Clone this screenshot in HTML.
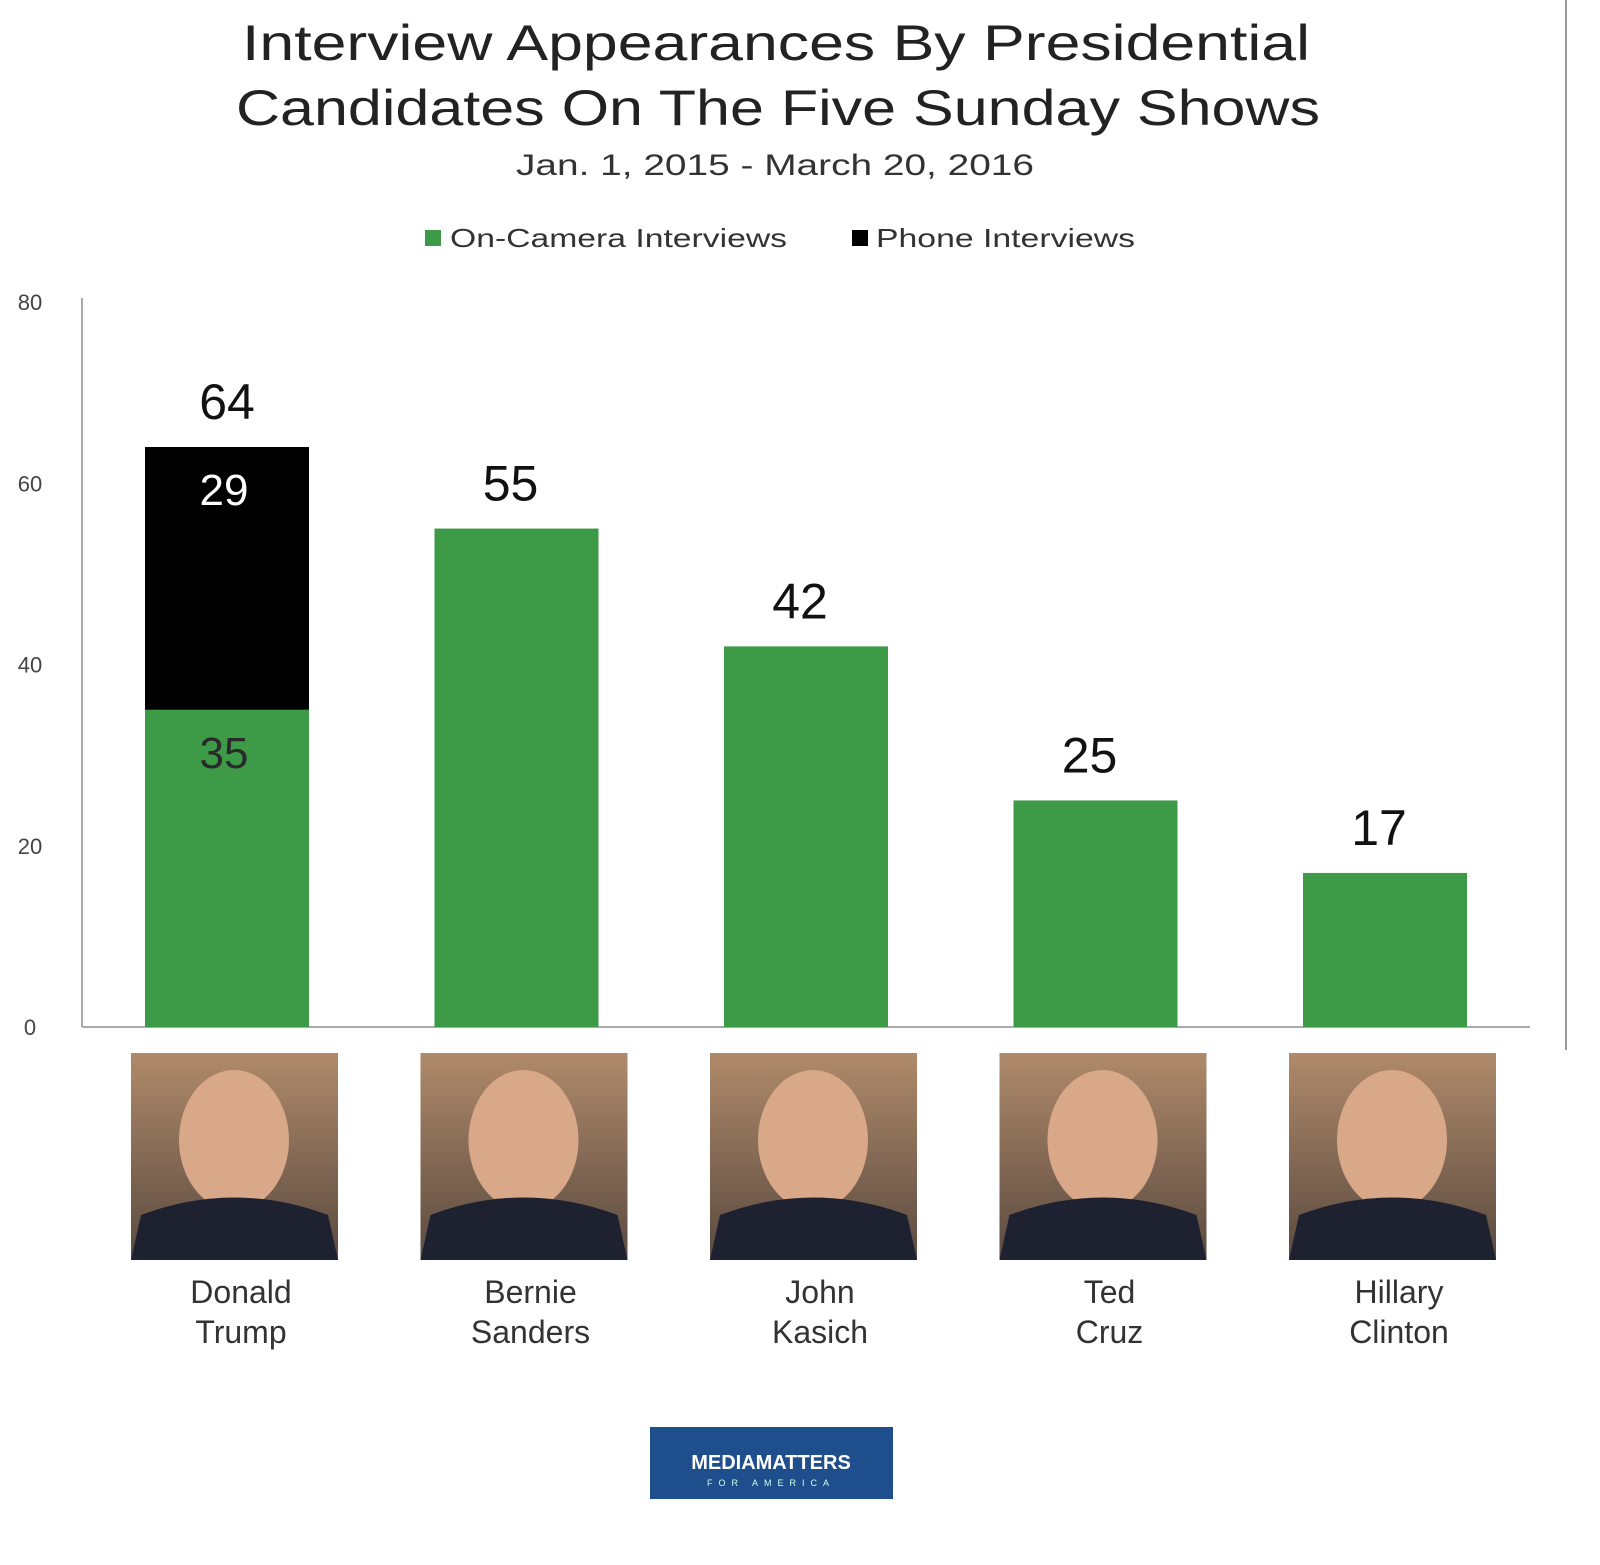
<!DOCTYPE html>
<html><head><meta charset="utf-8"><style>
body{margin:0;background:#fff;}
svg text{font-family:"Liberation Sans",sans-serif;}
</style></head><body>
<svg width="1600" height="1560" viewBox="0 0 1600 1560" xmlns="http://www.w3.org/2000/svg">
<defs>
<linearGradient id="bg" x1="0" y1="0" x2="0" y2="1"><stop offset="0" stop-color="#b08a6a"/><stop offset="1" stop-color="#5a4a40"/></linearGradient>
</defs>
<line x1="1566" y1="0" x2="1566" y2="1050" stroke="#999" stroke-width="2"/>
<text x="242" y="60" font-size="50" textLength="1068" lengthAdjust="spacingAndGlyphs" fill="#222">Interview Appearances By Presidential</text>
<text x="236" y="125" font-size="50" textLength="1084" lengthAdjust="spacingAndGlyphs" fill="#222">Candidates On The Five Sunday Shows</text>
<text x="516" y="175" font-size="30" textLength="518" lengthAdjust="spacingAndGlyphs" fill="#333">Jan. 1, 2015 - March 20, 2016</text>
<g>
<rect x="425" y="230" width="16" height="16" fill="#3d9a47"/>
<text x="450" y="247" font-size="26" textLength="337" lengthAdjust="spacingAndGlyphs" fill="#333">On-Camera Interviews</text>
<rect x="852" y="230" width="16" height="16" fill="#000"/>
<text x="876" y="247" font-size="26" textLength="259" lengthAdjust="spacingAndGlyphs" fill="#333">Phone Interviews</text>
</g>
<g id="axis"></g>
<g id="bars"></g>
<g id="people"></g>
<g>
<rect x="650" y="1427" width="243" height="72" fill="#1f4e8c"/>
<text x="771" y="1469" font-size="20" font-weight="bold" fill="#fff" text-anchor="middle">MEDIAMATTERS</text>
<text x="771" y="1486" font-size="9" fill="#cfe" text-anchor="middle" letter-spacing="6">FOR AMERICA</text>
</g>
</svg>
<script>
const categories=["Donald Trump","Bernie Sanders","John Kasich","Ted Cruz","Hillary Clinton"];
const firstNames=["Donald","Bernie","John","Ted","Hillary"];
const lastNames=["Trump","Sanders","Kasich","Cruz","Clinton"];
const onCamera=[35,55,42,25,17];
const phone=[29,0,0,0,0];
const yTicks=[0,20,40,60,80];
const NS="http://www.w3.org/2000/svg";
const y0=1027,yTop=302,yMax=80;
function yScale(v){return y0-(y0-yTop)*v/yMax;}
function xCenter(i){return 227+i*289.5;}
function mk(tag,attrs,parent){const e=document.createElementNS(NS,tag);for(const k in attrs)e.setAttribute(k,attrs[k]);parent.appendChild(e);return e;}
const ax=document.getElementById('axis');
let l=mk('line',{x1:82,y1:298,x2:82,y2:y0,stroke:'#aaa','stroke-width':2},ax);


l=mk('line',{x1:82,y1:y0,x2:1530,y2:y0,stroke:'#aaa','stroke-width':2},ax);


yTicks.forEach(t=>{const e=mk('text',{x:30,y:yScale(t)+8,'font-size':22,'text-anchor':'middle',fill:'#444'},ax);e.textContent=t;

});
const bg=document.getElementById('bars');const pg=document.getElementById('people');
categories.forEach((c,i)=>{
 const cx=xCenter(i),w=164;
 let r=mk('rect',{x:cx-w/2,y:yScale(onCamera[i]),width:w,height:y0-yScale(onCamera[i]),fill:'#3d9a47'},bg);
 
 
 const tot=onCamera[i]+phone[i];
 if(phone[i]>0){
  r=mk('rect',{x:cx-w/2,y:yScale(tot),width:w,height:yScale(onCamera[i])-yScale(tot),fill:'#000'},bg);
  
  
  let t=mk('text',{x:cx-3,y:yScale(tot)+58,'font-size':44,'text-anchor':'middle',fill:'#fff'},bg);t.textContent=phone[i];
  
  
  t=mk('text',{x:cx-3,y:yScale(onCamera[i])+58,'font-size':44,'text-anchor':'middle',fill:'#2a2a2a'},bg);t.textContent=onCamera[i];
  
  
 }
 let t=mk('text',{x:cx-(phone[i]>0?0:6),y:yScale(tot)-28,'font-size':50,'text-anchor':'middle',fill:'#111'},bg);t.textContent=tot;
 
 
 const px=cx+7-103;
 const g=mk('g',{},pg);
 
 
 mk('rect',{x:px,y:1053,width:207,height:207,fill:'url(#bg)'},g);
 mk('ellipse',{cx:px+103,cy:1140,rx:55,ry:70,fill:'#d9a888'},g);
 mk('path',{d:`M${px} 1260 L${px+10} 1215 Q${px+103} 1180 ${px+197} 1215 L${px+207} 1260 Z`,fill:'#1e2230'},g);
 let n=mk('text',{x:cx+14,y:1303,'font-size':32,'text-anchor':'middle',fill:'#333'},pg);n.textContent=firstNames[i];
 
 
 n=mk('text',{x:cx+14,y:1343,'font-size':32,'text-anchor':'middle',fill:'#333'},pg);n.textContent=lastNames[i];
 
 
});
</script>
</body></html>
